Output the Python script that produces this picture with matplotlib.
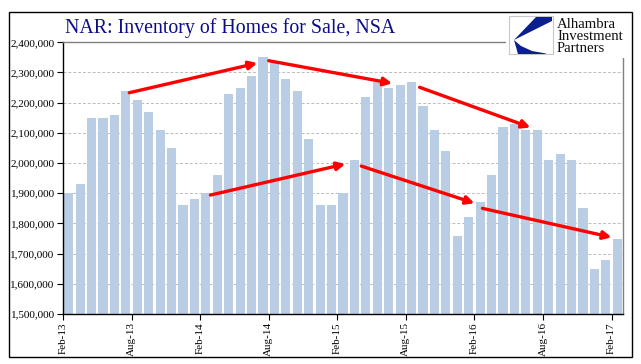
import matplotlib
matplotlib.use('Agg')
import matplotlib.pyplot as plt
from matplotlib.patches import Rectangle, Polygon

# monthly inventory, Feb-2013 .. Feb-2017
values = [1900000, 1930000, 2150000, 2150000, 2160000, 2240000, 2210000, 2170000, 2110000, 2050000, 1860000,
          1880000, 1900000, 1960000, 2230000, 2250000, 2290000, 2350000, 2330000, 2280000, 2240000, 2080000, 1860000,
          1860000, 1900000, 2010000, 2220000, 2270000, 2250000, 2260000, 2270000, 2190000, 2110000, 2040000, 1760000,
          1820000, 1870000, 1960000, 2120000, 2130000, 2110000, 2110000, 2010000, 2030000, 2010000, 1850000, 1650000,
          1680000, 1750000]
tick_pos = [0, 6, 12, 18, 24, 30, 36, 42, 48]
tick_labels = ['Feb-13', 'Aug-13', 'Feb-14', 'Aug-14', 'Feb-15', 'Aug-15', 'Feb-16', 'Aug-16', 'Feb-17']
y_ticks = list(range(1500000, 2400001, 100000))

# trend arrows: (start index, start value, end index, end value)
arrows = [
    (5.3, 2233000, 16.5, 2331000),
    (17.5, 2339000, 28.3, 2264000),
    (30.7, 2251000, 40.4, 2118000),
    (12.4, 1894000, 24.2, 1997000),
    (25.6, 1990000, 35.5, 1867000),
    (36.2, 1850000, 47.5, 1754000),
]

W, H = 641, 364
fig = plt.figure(figsize=(W / 100, H / 100), dpi=100)
serif = ['Liberation Serif', 'DejaVu Serif']

ax = fig.add_axes([63 / W, (H - 314) / H, 560 / W, (314 - 42.3) / H])
ax.bar(range(len(values)), values, width=0.8, color='#b9cde5', zorder=2)
ax.set_xlim(-0.5, len(values) - 0.5)
ax.set_ylim(1500000, 2400000)
ax.set_yticks(y_ticks)
ax.set_yticklabels(['{:,}'.format(v) for v in y_ticks], family=serif, fontsize=8)
ax.set_xticks([p - 0.5 for p in tick_pos])
ax.set_xticklabels(tick_labels, rotation=90, family=serif, fontsize=8)
ax.tick_params(axis='both', direction='out', length=4, width=0.8, colors='black', pad=2)
ax.yaxis.grid(True, color='#bcbcbc', linestyle=(0, (3, 2)), linewidth=0.7, zorder=0)
ax.set_axisbelow(True)
for s in ['left', 'bottom']:
    ax.spines[s].set_color('black')
    ax.spines[s].set_linewidth(1)
for s in ['top', 'right']:
    ax.spines[s].set_color('#808080')
    ax.spines[s].set_linewidth(1)

for x0, y0, x1, y1 in arrows:
    ax.annotate('', xy=(x1, y1), xytext=(x0, y0),
                arrowprops=dict(arrowstyle='-|>', color='red', lw=2.4,
                                mutation_scale=12, shrinkA=0, shrinkB=0),
                zorder=5)

fig.text(65 / W, 1 - 28.5 / H, 'NAR: Inventory of Homes for Sale, NSA', family=serif,
         fontsize=14.3, color='#0c0c8c', va='center', ha='left')

# logo area
def px(x, y):
    return (x / W, 1 - y / H)

fig.patches.append(Rectangle(px(506, 58), 120 / W, 46 / H, transform=fig.transFigure,
                             facecolor='white', edgecolor='none', zorder=5))
fig.patches.append(Rectangle(px(509, 54), 44 / W, 38 / H, transform=fig.transFigure,
                             facecolor='white', edgecolor='#c8c8c8', lw=0.8, zorder=6))
fig.patches.append(Polygon([px(536, 17), px(552, 17), px(552, 21), px(514, 40)],
                           closed=True, transform=fig.transFigure,
                           facecolor='#0b1f8f', edgecolor='none', zorder=7))
fig.patches.append(Polygon([px(514, 40), px(521, 46), px(532, 51), px(546, 53.5),
                            px(546, 54), px(518, 54)],
                           closed=True, transform=fig.transFigure,
                           facecolor='#0b1f8f', edgecolor='none', zorder=7))
for i, word in enumerate(['Alhambra', 'Investment', 'Partners']):
    fig.text(557 / W, 1 - (25 + i * 11.5) / H, word, family=serif, fontsize=10.6,
             color='#111111', va='center', ha='left', zorder=8)

# outer frame
fig.patches.append(Rectangle(px(9, 357), 623 / W, 345 / H, transform=fig.transFigure,
                             facecolor='none', edgecolor='black', lw=1, zorder=9))

fig.savefig('out.png', dpi=100)
